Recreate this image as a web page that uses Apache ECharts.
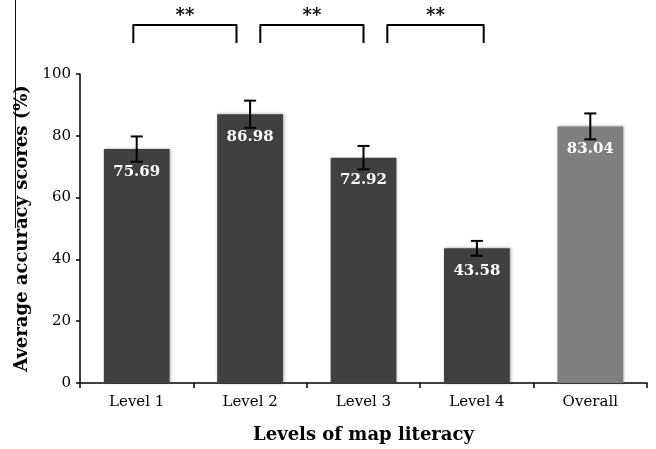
<!DOCTYPE html>
<html>
<head>
<meta charset="utf-8">
<script src="https://cdn.jsdelivr.net/npm/echarts@6/dist/echarts.min.js"></script>
<style>
  html, body { margin: 0; padding: 0; background: #fff; }
  #chart { width: 656px; height: 449px; }
</style>
</head>
<body>
<div id="chart"></div>
<script>
// chart data
const categories = ['Level 1', 'Level 2', 'Level 3', 'Level 4', 'Overall']
const scores = [75.69, 86.98, 72.92, 43.58, 83.04]
const errors = [4.1, 4.4, 3.8, 2.4, 4.2]
const sigPairs = [[0, 1], [1, 2], [2, 3]]
const sigLabels = ['**', '**', '**']
const yTicks = [0, 20, 40, 60, 80, 100]

// bracket leg shifts, in fractions of a category band
const bracketShift = [[-0.03, -0.12], [0.09, 0], [0.21, 0.06]]
const serif = 'DejaVu Serif'

let chart = echarts.init(document.getElementById('chart'))

let option = {
  animation: false,
  grid: {
    left: 80,
    right: 9,
    top: 74,
    bottom: 61
  },
  xAxis: {
    type: 'category',
    data: categories,
    name: 'Levels of map literacy',
    nameLocation: 'middle',
    nameGap: 43,
    nameTextStyle: {
      fontFamily: serif,
      fontWeight: 'bold',
      fontSize: 18,
      color: '#000'
    },
    axisLine: { lineStyle: { color: '#000', width: 1.5 } },
    axisTick: { show: true, length: 5, lineStyle: { color: '#000', width: 1.5 } },
    axisLabel: {
      margin: 12,
      fontFamily: serif,
      fontSize: 15,
      color: '#000'
    }
  },
  yAxis: {
    type: 'value',
    min: yTicks[0],
    max: yTicks[yTicks.length - 1],
    interval: yTicks[1] - yTicks[0],
    name: 'Average accuracy scores (%)',
    nameLocation: 'middle',
    nameGap: 48,
    nameTextStyle: {
      fontFamily: serif,
      fontWeight: 'bold',
      fontSize: 18,
      color: '#000'
    },
    axisLine: { show: true, lineStyle: { color: '#000', width: 1.5 } },
    axisTick: { show: true, length: 4, lineStyle: { color: '#000', width: 1.5 } },
    splitLine: { show: false },
    axisLabel: {
      margin: 9,
      fontFamily: serif,
      fontSize: 15,
      color: '#000'
    }
  },
  series: [
    {
      type: 'bar',
      barWidth: '58%',
      data: scores.map((v, i) => ({
        value: v,
        itemStyle: { color: i === scores.length - 1 ? '#7f7f7f' : '#404040' }
      })),
      itemStyle: {
        shadowBlur: 3,
        shadowColor: 'rgba(0,0,0,0.35)',
        shadowOffsetX: 1,
        shadowOffsetY: 0
      },
      label: {
        show: true,
        position: 'insideTop',
        distance: 15,
        formatter: p => p.value.toFixed(2),
        fontFamily: serif,
        fontWeight: 'bold',
        fontSize: 15,
        color: '#fff'
      }
    },
    {
      // error bars
      type: 'custom',
      z: 5,
      data: scores.map((v, i) => [i, v, errors[i]]),
      renderItem (params, api) {
        let i = api.value(0)
        let v = api.value(1)
        let e = api.value(2)
        let top = api.coord([i, v + e])
        let bot = api.coord([i, v - e])
        let half = 6
        let style = { stroke: '#000', lineWidth: 2 }
        return {
          type: 'group',
          children: [
            { type: 'line', shape: { x1: top[0], y1: top[1], x2: bot[0], y2: bot[1] }, style },
            { type: 'line', shape: { x1: top[0] - half, y1: top[1], x2: top[0] + half, y2: top[1] }, style },
            { type: 'line', shape: { x1: bot[0] - half, y1: bot[1], x2: bot[0] + half, y2: bot[1] }, style }
          ]
        }
      }
    },
    {
      // significance brackets
      type: 'custom',
      clip: false,
      z: 5,
      data: sigPairs.map((p, k) => [p[0], p[1], k]),
      renderItem (params, api) {
        let a = api.value(0)
        let b = api.value(1)
        let k = api.value(2)
        let band = api.size([1, 0])[0]
        let pa = api.coord([a, yTicks[yTicks.length - 1]])
        let pb = api.coord([b, yTicks[yTicks.length - 1]])
        let x1 = pa[0] + bracketShift[k][0] * band
        let x2 = pb[0] + bracketShift[k][1] * band
        let yTop = pa[1] - 49
        let yBot = pa[1] - 31
        return {
          type: 'group',
          children: [
            {
              type: 'polyline',
              shape: { points: [[x1, yBot], [x1, yTop], [x2, yTop], [x2, yBot]] },
              style: { stroke: '#000', lineWidth: 2, fill: null, lineJoin: 'round' }
            },
            {
              type: 'text',
              style: {
                text: sigLabels[k],
                x: (x1 + x2) / 2,
                y: yTop - 9,
                align: 'center',
                verticalAlign: 'middle',
                font: 'bold 18px ' + serif,
                fill: '#000'
              }
            }
          ]
        }
      }
    }
  ],
  graphic: [
    {
      type: 'line',
      shape: { x1: 15.5, y1: 0, x2: 15.5, y2: 228 },
      style: { stroke: '#111', lineWidth: 1 }
    }
  ]
}

chart.setOption(option)
</script>
</body>
</html>
